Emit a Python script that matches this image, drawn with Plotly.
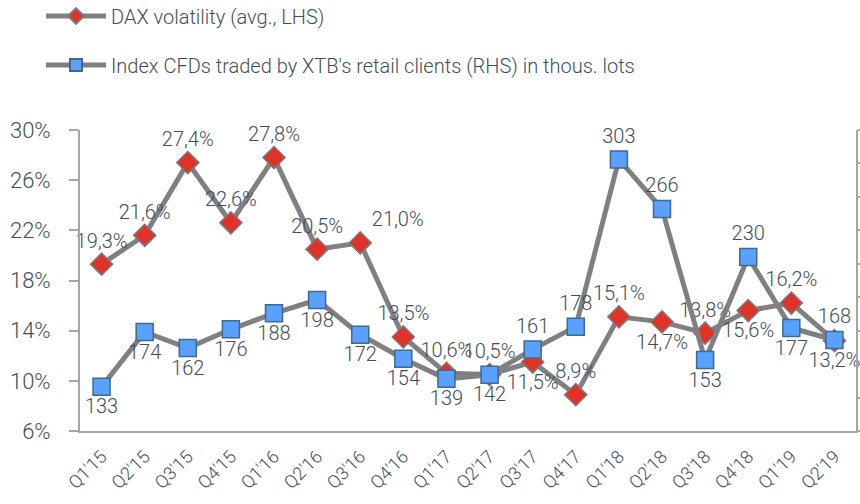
import plotly.graph_objects as go

quarters = ["Q1'15", "Q2'15", "Q3'15", "Q4'15", "Q1'16", "Q2'16", "Q3'16", "Q4'16",
            "Q1'17", "Q2'17", "Q3'17", "Q4'17", "Q1'18", "Q2'18", "Q3'18", "Q4'18",
            "Q1'19", "Q2'19"]
dax_vol = [19.3, 21.6, 27.4, 22.6, 27.8, 20.5, 21.0, 13.5, 10.6, 10.5, 11.5, 8.9,
           15.1, 14.7, 13.8, 15.6, 16.2, 13.2]
cfd_lots = [133, 174, 162, 176, 188, 198, 172, 154, 139, 142, 161, 178, 303, 266,
            153, 230, 177, 168]

dax_pos = ["top center", "top center", "top center", "top center", "top center", "top center",
           "top right", "top center", "top center", "top center", "bottom center", "top center",
           "top center", "bottom center", "top center", "bottom center", "top center",
           "bottom center"]
cfd_pos = ["bottom center", "bottom center", "bottom center", "bottom center", "bottom center",
           "bottom center", "bottom center", "bottom center", "bottom center", "bottom center",
           "top center", "top center", "top center", "top center", "bottom center",
           "top center", "bottom center", "top center"]

TXT = "#414e5a"
LINE = "#808080"
FONT = "Roboto"

dax_text = [f"{v:.1f}%".replace(".", ",") for v in dax_vol]
cfd_text = [str(v) for v in cfd_lots]

fig = go.Figure()
fig.add_trace(go.Scatter(
    x=quarters, y=dax_vol, name="DAX volatility (avg., LHS)",
    mode="lines+markers+text", text=dax_text, textposition=dax_pos,
    textfont=dict(size=20, color=TXT, family=FONT, weight=300),
    line=dict(color=LINE, width=5),
    marker=dict(symbol="diamond", size=17, color="#e03229", line=dict(color="#7a7a7a", width=1.5)),
    legend="legend", cliponaxis=False,
))
fig.add_trace(go.Scatter(
    x=quarters, y=cfd_lots, name="Index CFDs traded by XTB's retail clients (RHS) in thous. lots",
    mode="lines+markers+text", text=cfd_text, textposition=cfd_pos,
    textfont=dict(size=20, color=TXT, family=FONT, weight=300),
    line=dict(color=LINE, width=5),
    marker=dict(symbol="square", size=17, color="#5aa0ff", line=dict(color="#3f6b8a", width=1.5)),
    yaxis="y2", legend="legend2", cliponaxis=False,
))

axis_line = dict(showline=True, linecolor="#a6a6a6", linewidth=2)
legend_font = dict(size=20, color=TXT, family=FONT, weight=300)

fig.update_layout(
    width=860, height=504,
    margin=dict(l=80, r=4, t=130, b=73, autoexpand=False),
    paper_bgcolor="white", plot_bgcolor="white",
    font=dict(family=FONT, color=TXT, weight=300),
    showlegend=True,
    xaxis=dict(type="category", range=[-0.5, 17.5], tickangle=-45, ticks="",
               tickfont=dict(size=18, color=TXT, family=FONT, weight=300),
               showgrid=False, zeroline=False, ticklabelstandoff=6, **axis_line),
    yaxis=dict(range=[6, 30], dtick=4, tick0=6, ticksuffix="%", ticks="outside", ticklen=9,
               tickcolor="#a6a6a6", tickwidth=2,
               tickfont=dict(size=22, color=TXT, family=FONT, weight=300),
               ticklabelstandoff=14, showgrid=False, zeroline=False, **axis_line),
    yaxis2=dict(range=[100, 325], dtick=25, tick0=100, overlaying="y", side="right",
                ticks="outside", ticklen=5, tickcolor="#a6a6a6", tickwidth=2,
                showticklabels=False, showgrid=False, zeroline=False, **axis_line),
    legend=dict(x=41 / 860, y=1 - 16 / 504, xref="container", yref="container",
                xanchor="left", yanchor="middle", itemwidth=60, itemsizing="constant",
                font=legend_font, bgcolor="rgba(0,0,0,0)"),
    legend2=dict(x=41 / 860, y=1 - 65 / 504, xref="container", yref="container",
                 xanchor="left", yanchor="middle", itemwidth=60, itemsizing="constant",
                 font=legend_font, bgcolor="rgba(0,0,0,0)"),
)

fig.write_html("out.html", config={"displayModeBar": False},
               post_script="document.body.style.margin='0';")
